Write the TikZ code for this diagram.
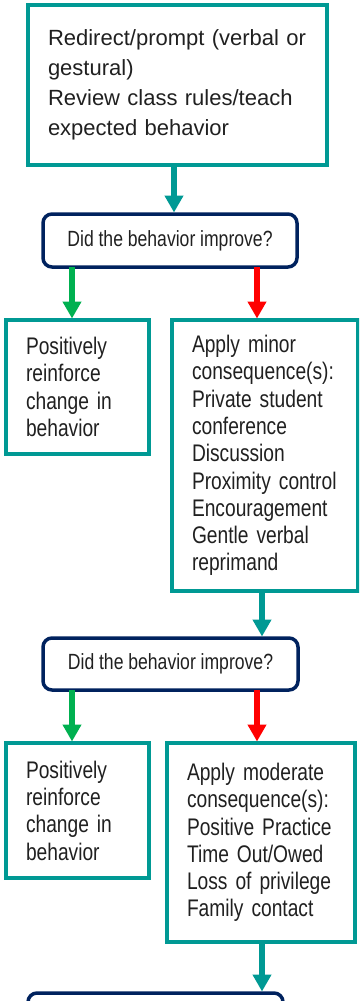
\documentclass[tikz,border=0pt]{standalone}
\usepackage{fontspec}
\setmainfont{Liberation Sans}
\newfontfamily\condensed{Liberation Sans}[FakeStretch=0.8]
\newcommand\boxfont{\condensed\fontsize{24}{27.3}\selectfont\spaceskip=5.2pt\relax\hyphenpenalty=10000\relax}
\newcommand\askfont{\condensed\fontsize{22}{24}\selectfont\spaceskip=4.8pt\relax}
\usepackage{xcolor}
\usepackage{tikz}
\usetikzlibrary{shapes,arrows.meta,positioning}
\definecolor{stepteal}{RGB}{0,153,148}
\definecolor{asknavy}{RGB}{0,34,94}
\definecolor{yesgreen}{RGB}{0,176,80}
\definecolor{nored}{RGB}{255,0,0}
\definecolor{bodytext}{RGB}{32,32,32}

\begin{document}
\begin{tikzpicture}[
    x=1pt, y=-1pt,
    every node/.style={text=bodytext, outer sep=0pt, anchor=north west},
    box/.style={rectangle, draw=stepteal, line width=3.5pt, align=left, inner xsep=20pt, font=\boxfont},
    ask/.style={rectangle, draw=asknavy, line width=3.5pt, rounded corners=9pt, font=\askfont},
    arrow/.style={draw=stepteal, line width=6pt, shorten >=1.5pt, -{Triangle[width=18pt,length=17pt]}}
]
\path[use as bounding box, clip] (0,0) rectangle (359,1001);

% Boxes
\node[box, font=\fontsize{22}{30}\selectfont, text width=259pt, minimum height=160pt] (redirect) at (28,5)
    {Redirect/prompt (verbal or\\ gestural)\\ Review class rules/teach\\ expected behavior};
\node[ask, minimum width=254pt, minimum height=53pt] (improve1) at (43,214) {Did the behavior improve?};
\node[box, text width=103pt, minimum height=134pt] (praise1) at (6,320)
    {Positively\\ reinforce\\ change in\\ behavior};
\node[box, text width=146pt, minimum height=271pt] (minor) at (172,320)
    {Apply minor\\ consequence(s):\\ Private student\\ conference\\ Discussion\\ Proximity control\\ Encouragement\\ Gentle verbal\\ reprimand};
\node[ask, minimum width=255pt, minimum height=52pt] (improve2) at (43,638) {Did the behavior improve?};
\node[box, text width=103pt, minimum height=135pt] (praise2) at (6,743)
    {Positively\\ reinforce\\ change in\\ behavior};
\node[box, text width=148pt, minimum height=199pt] (moderate) at (167,743)
    {Apply moderate\\ consequence(s):\\ Positive Practice\\ Time Out/Owed\\ Loss of privilege\\ Family contact};
\node[ask, minimum width=255pt, minimum height=60pt] (improve3) at (28,993) {};

% Arrows
\draw[arrow] ([xshift=-3.5pt]redirect.south) -- ([xshift=-3.5pt]redirect.south |- improve1.north);
\draw[arrow, draw=yesgreen] ([xshift=-5.5pt]praise1.north |- improve1.south) -- ([xshift=-5.5pt]praise1.north);
\draw[arrow, draw=nored] ([xshift=-8pt]minor.north |- improve1.south) -- ([xshift=-8pt]minor.north);
\draw[arrow] ([xshift=-3pt]minor.south) -- ([xshift=-3pt]minor.south |- improve2.north);
\draw[arrow, draw=yesgreen] ([xshift=-5.5pt]praise2.north |- improve2.south) -- ([xshift=-5.5pt]praise2.north);
\draw[arrow, draw=nored] ([xshift=-4pt]moderate.north |- improve2.south) -- ([xshift=-4pt]moderate.north);
\draw[arrow] ([xshift=1pt]moderate.south) -- ([xshift=1pt]moderate.south |- improve3.north);

\end{tikzpicture}
\end{document}
